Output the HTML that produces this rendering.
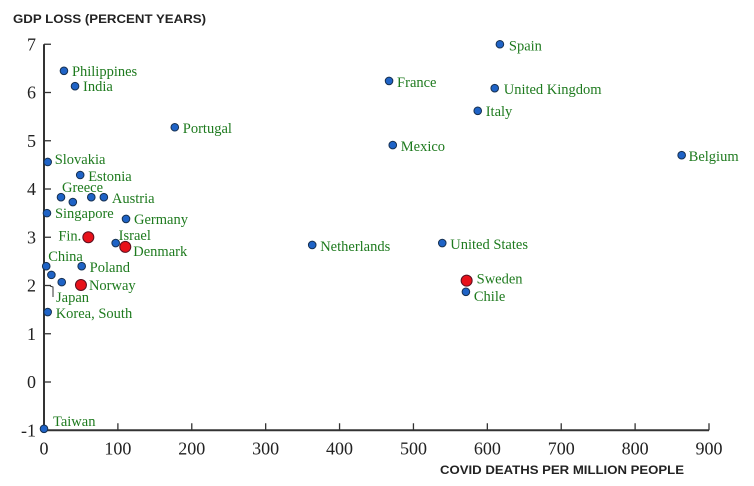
<!DOCTYPE html>
<html><head><meta charset="utf-8"><style>
body{margin:0;background:#fff;}
svg{display:block;}
.tk{font-family:"Liberation Serif",serif;font-size:18px;fill:#222;}
.lb{font-family:"Liberation Serif",serif;font-size:14.5px;fill:#1e7a1e;}
.ttl{font-family:"Liberation Sans",sans-serif;font-size:12px;font-weight:bold;fill:#222;}
</style></head><body>
<svg id="chart" width="754" height="486">
<text class="ttl" x="13" y="23" textLength="193" lengthAdjust="spacingAndGlyphs">GDP LOSS (PERCENT YEARS)</text>
<text class="ttl" x="440" y="474" textLength="244" lengthAdjust="spacingAndGlyphs">COVID DEATHS PER MILLION PEOPLE</text>
<g id="axes"></g><g id="marks"></g>
</svg>
<script>
const countries=["Spain","France","United Kingdom","Italy","Mexico","Belgium","Portugal","Philippines","India","Slovakia","Estonia","Greece","","","Austria","Singapore","Germany","Fin.","Israel","Denmark","Netherlands","United States","Sweden","Chile","China","","Poland","","Norway","Korea, South","Taiwan","Japan"];
const deaths=[617,467,610,587,472,863,177,27,42,5,49,23,39,64,81,4,111,60,97,110,363,539,572,571,3,10,51,24,50,5,0,null];
const gdpLoss=[7.0,6.24,6.09,5.62,4.91,4.70,5.28,6.45,6.13,4.56,4.29,3.83,3.73,3.83,3.83,3.5,3.38,3.0,2.88,2.8,2.84,2.88,2.1,1.87,2.4,2.22,2.4,2.07,2.01,1.45,-0.97,null];
const highlighted=[0,0,0,0,0,0,0,0,0,0,0,0,0,0,0,0,0,1,0,1,0,0,1,0,0,0,0,0,1,0,0,0];
const xTicks=[0,100,200,300,400,500,600,700,800,900];
const yTicks=[-1,0,1,2,3,4,5,6,7];
// label offsets (layout, not data)
const lblDx=[9,8,9,8,8,7,8,8,8,7,8,1,0,0,8,8,8,-30,3,8,8,8,10,8,2,0,8,0,8,8,9,0];
const lblDy=[6,6,6,5,6,6,6,5,5,2,6,-5,0,0,6,5,5,3,-3,9,6,6,3,9,-5,0,6,0,5,6,-3,0];
const X=v=>44+v*(665/900), Y=v=>382-v*48.25;
const NS="http://www.w3.org/2000/svg";
const ax=document.getElementById('axes'), mk=document.getElementById('marks');
function mkEl(t,a,p){const e=document.createElementNS(NS,t);for(const k in a)e.setAttribute(k,a[k]);p.appendChild(e);return e;}
let l=mkEl('line',{x1:44,y1:Y(7),x2:44,y2:Y(-1)+1,stroke:'#333','stroke-width':2},ax);


l=mkEl('line',{x1:43,y1:Y(-1),x2:X(900),y2:Y(-1),stroke:'#333','stroke-width':2},ax);


yTicks.forEach(v=>{
 mkEl('line',{x1:44,y1:Y(v),x2:51,y2:Y(v),stroke:'#333','stroke-width':1.3},ax);
 const t=mkEl('text',{class:'tk',x:36,y:Y(v)+6,'text-anchor':'end'},ax);t.textContent=v;
 
 
});
xTicks.forEach(v=>{
 mkEl('line',{x1:X(v),y1:Y(-1),x2:X(v),y2:Y(-1)-7,stroke:'#333','stroke-width':1.3},ax);
 const t=mkEl('text',{class:'tk',x:X(v),y:Y(-1)+24,'text-anchor':'middle'},ax);t.textContent=v;
 
 
});
mkEl('path',{d:'M50 286 L53 287 L53 297',stroke:'#333',fill:'none','stroke-width':1},mk);
const jp=mkEl('text',{class:'lb',x:56,y:302},mk);jp.textContent='Japan';


deaths.forEach((d,i)=>{
 if(d===null)return;
 const r=highlighted[i];
 const c=mkEl('circle',{cx:X(d),cy:Y(gdpLoss[i]),r:r?5.5:3.8,fill:r?'#e8111a':'#1f63c6',stroke:r?'#5a1020':'#163050','stroke-width':1},mk);
 
 
 if(countries[i]){
  const t=mkEl('text',{class:'lb',x:X(d)+lblDx[i],y:Y(gdpLoss[i])+lblDy[i]},mk);t.textContent=countries[i];
  
  
 }
});
</script>
</body></html>
